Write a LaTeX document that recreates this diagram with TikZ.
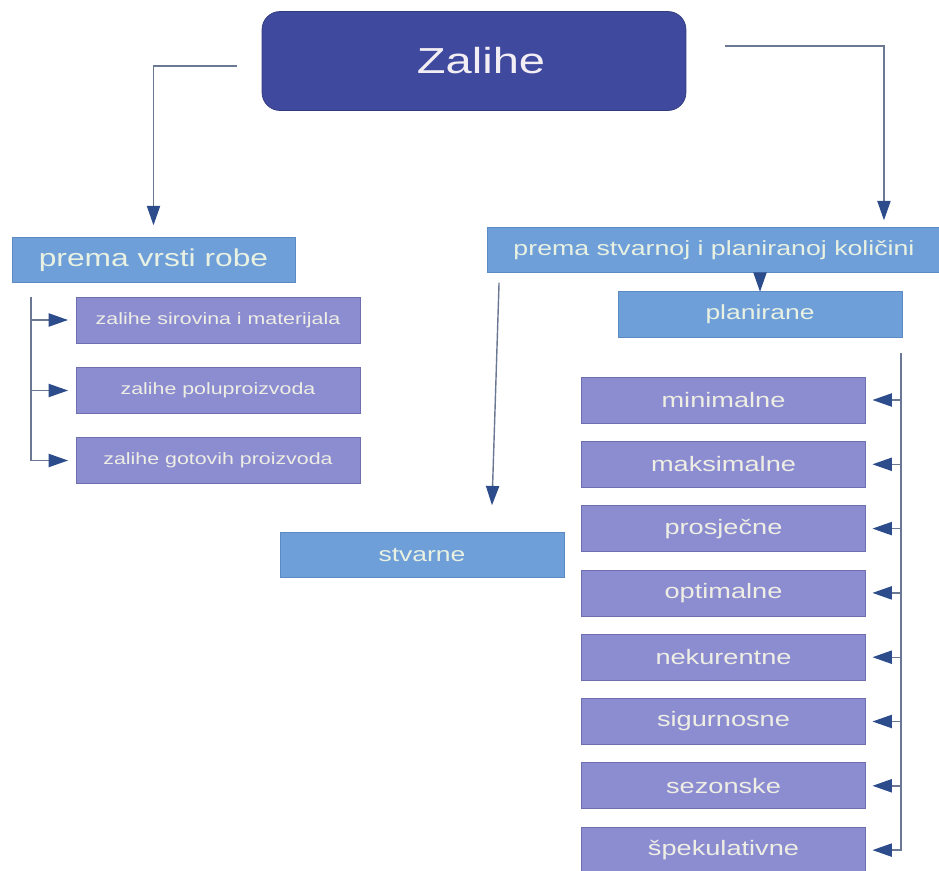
\documentclass[tikz,border=0pt]{standalone}
\usepackage{fontspec}
\setmainfont[FakeStretch=1.3]{Liberation Sans}
\usetikzlibrary{%
  arrows.meta,
  positioning,
  calc%
}
\definecolor{headfill}{HTML}{3F4A9E}
\definecolor{headtext}{HTML}{F2EEF4}
\definecolor{groupfill}{HTML}{6F9FD8}
\definecolor{groupline}{HTML}{5C8AC2}
\definecolor{grouptext}{HTML}{E8F1E2}
\definecolor{itemfill}{HTML}{8C8DD1}
\definecolor{itemline}{HTML}{6E6FAE}
\definecolor{itemtext}{HTML}{EEEEE4}
\definecolor{linkline}{HTML}{6B7894}
\definecolor{linktip}{HTML}{2D4C8C}
\tikzset{
  headbox/.style={
    fill=headfill,
    draw=headfill!80!black,
    text=headtext,
    rounded corners=0.36cm,
    minimum width=8.48cm,
    minimum height=1.98cm,
    inner sep=0pt,
    outer sep=0pt,
    font=\fontsize{20.6pt}{24pt}\selectfont
  },
  groupbox/.style={
    fill=groupfill,
    draw=groupline,
    text=grouptext,
    minimum width=5.68cm,
    minimum height=0.91cm,
    inner sep=0pt,
    outer sep=0pt,
    font=\fontsize{11.6pt}{14pt}\selectfont
  },
  itembox/.style={
    fill=itemfill,
    draw=itemline,
    text=itemtext,
    minimum width=5.68cm,
    minimum height=0.92cm,
    inner sep=0pt,
    outer sep=0pt,
    font=\fontsize{#1}{14pt}\selectfont
  },
  link/.style={
    draw=linkline,
    line width=0.8pt,
    -{Triangle[length=11pt,width=7.5pt,color=linktip]}
  }
}
\begin{document}
\begin{tikzpicture}[x=0.02cm,y=-0.02cm]
\useasboundingbox (0,0) rectangle (939,871);
\node[headbox] (zalihe) at (474,61) {\hspace{8pt}Zalihe};
\node[groupbox,minimum width=5.66cm,font=\fontsize{13.9pt}{16pt}\selectfont] (robe) at (153.5,260) {prema vrsti robe};
\node[groupbox,minimum width=9.08cm,font=\fontsize{11.7pt}{14pt}\selectfont] (kolicina) at (714,250) {prema stvarnoj i planiranoj količini};
\node[groupbox] (planirane) at (760,314.5) {planirane};
\node[groupbox] (stvarne) at (422,555) {stvarne};
% prema vrsti robe
\foreach \name/\y/\txt in {%
  sirovine/320/zalihe sirovina i materijala,
  polu/390.5/zalihe poluproizvoda,
  gotovi/460.5/zalihe gotovih proizvoda%
} {
  \node[itembox=9.35pt] (\name) at (218,\y) {\txt};
}
% planirane
\foreach \txt [count=\i from 0] in {%
  minimalne,maksimalne,prosječne,optimalne,
  nekurentne,sigurnosne,sezonske,špekulativne%
} {
  \node[itembox=11.9pt] (plan\i) at (723.5,{400+64.3*\i}) {\txt};
}
\draw[link] ([shift={(-25,5)}]zalihe.west) -| ([shift={(0,-12)}]robe.north);
\draw[link] ([shift={(39,-15)}]zalihe.east) -| ([shift={(-57,-7)}]kolicina.north east);
\draw[link] (planirane.north |- kolicina.south) -- (planirane.north);
\draw[link] ([shift={(12,10)}]kolicina.south west) -- ([shift={(-72,-27)}]stvarne.north east);
\coordinate (robetrunk) at ([shift={(19,14)}]robe.south west);
\draw[link,shorten >=0.16cm] (robetrunk) |- (gotovi.west);
\foreach \name in {sirovine,polu} {
  \draw[link,shorten >=0.16cm] (robetrunk |- \name.west) -- (\name.west);
}
\coordinate (plantrunk) at ([shift={(-1,16)}]planirane.south east);
\draw[link,shorten >=0.14cm] (plantrunk) |- (plan7.east);
\foreach \i in {0,...,6} {
  \draw[link,shorten >=0.14cm] (plantrunk |- plan\i.east) -- (plan\i.east);
}
\end{tikzpicture}
\end{document}
